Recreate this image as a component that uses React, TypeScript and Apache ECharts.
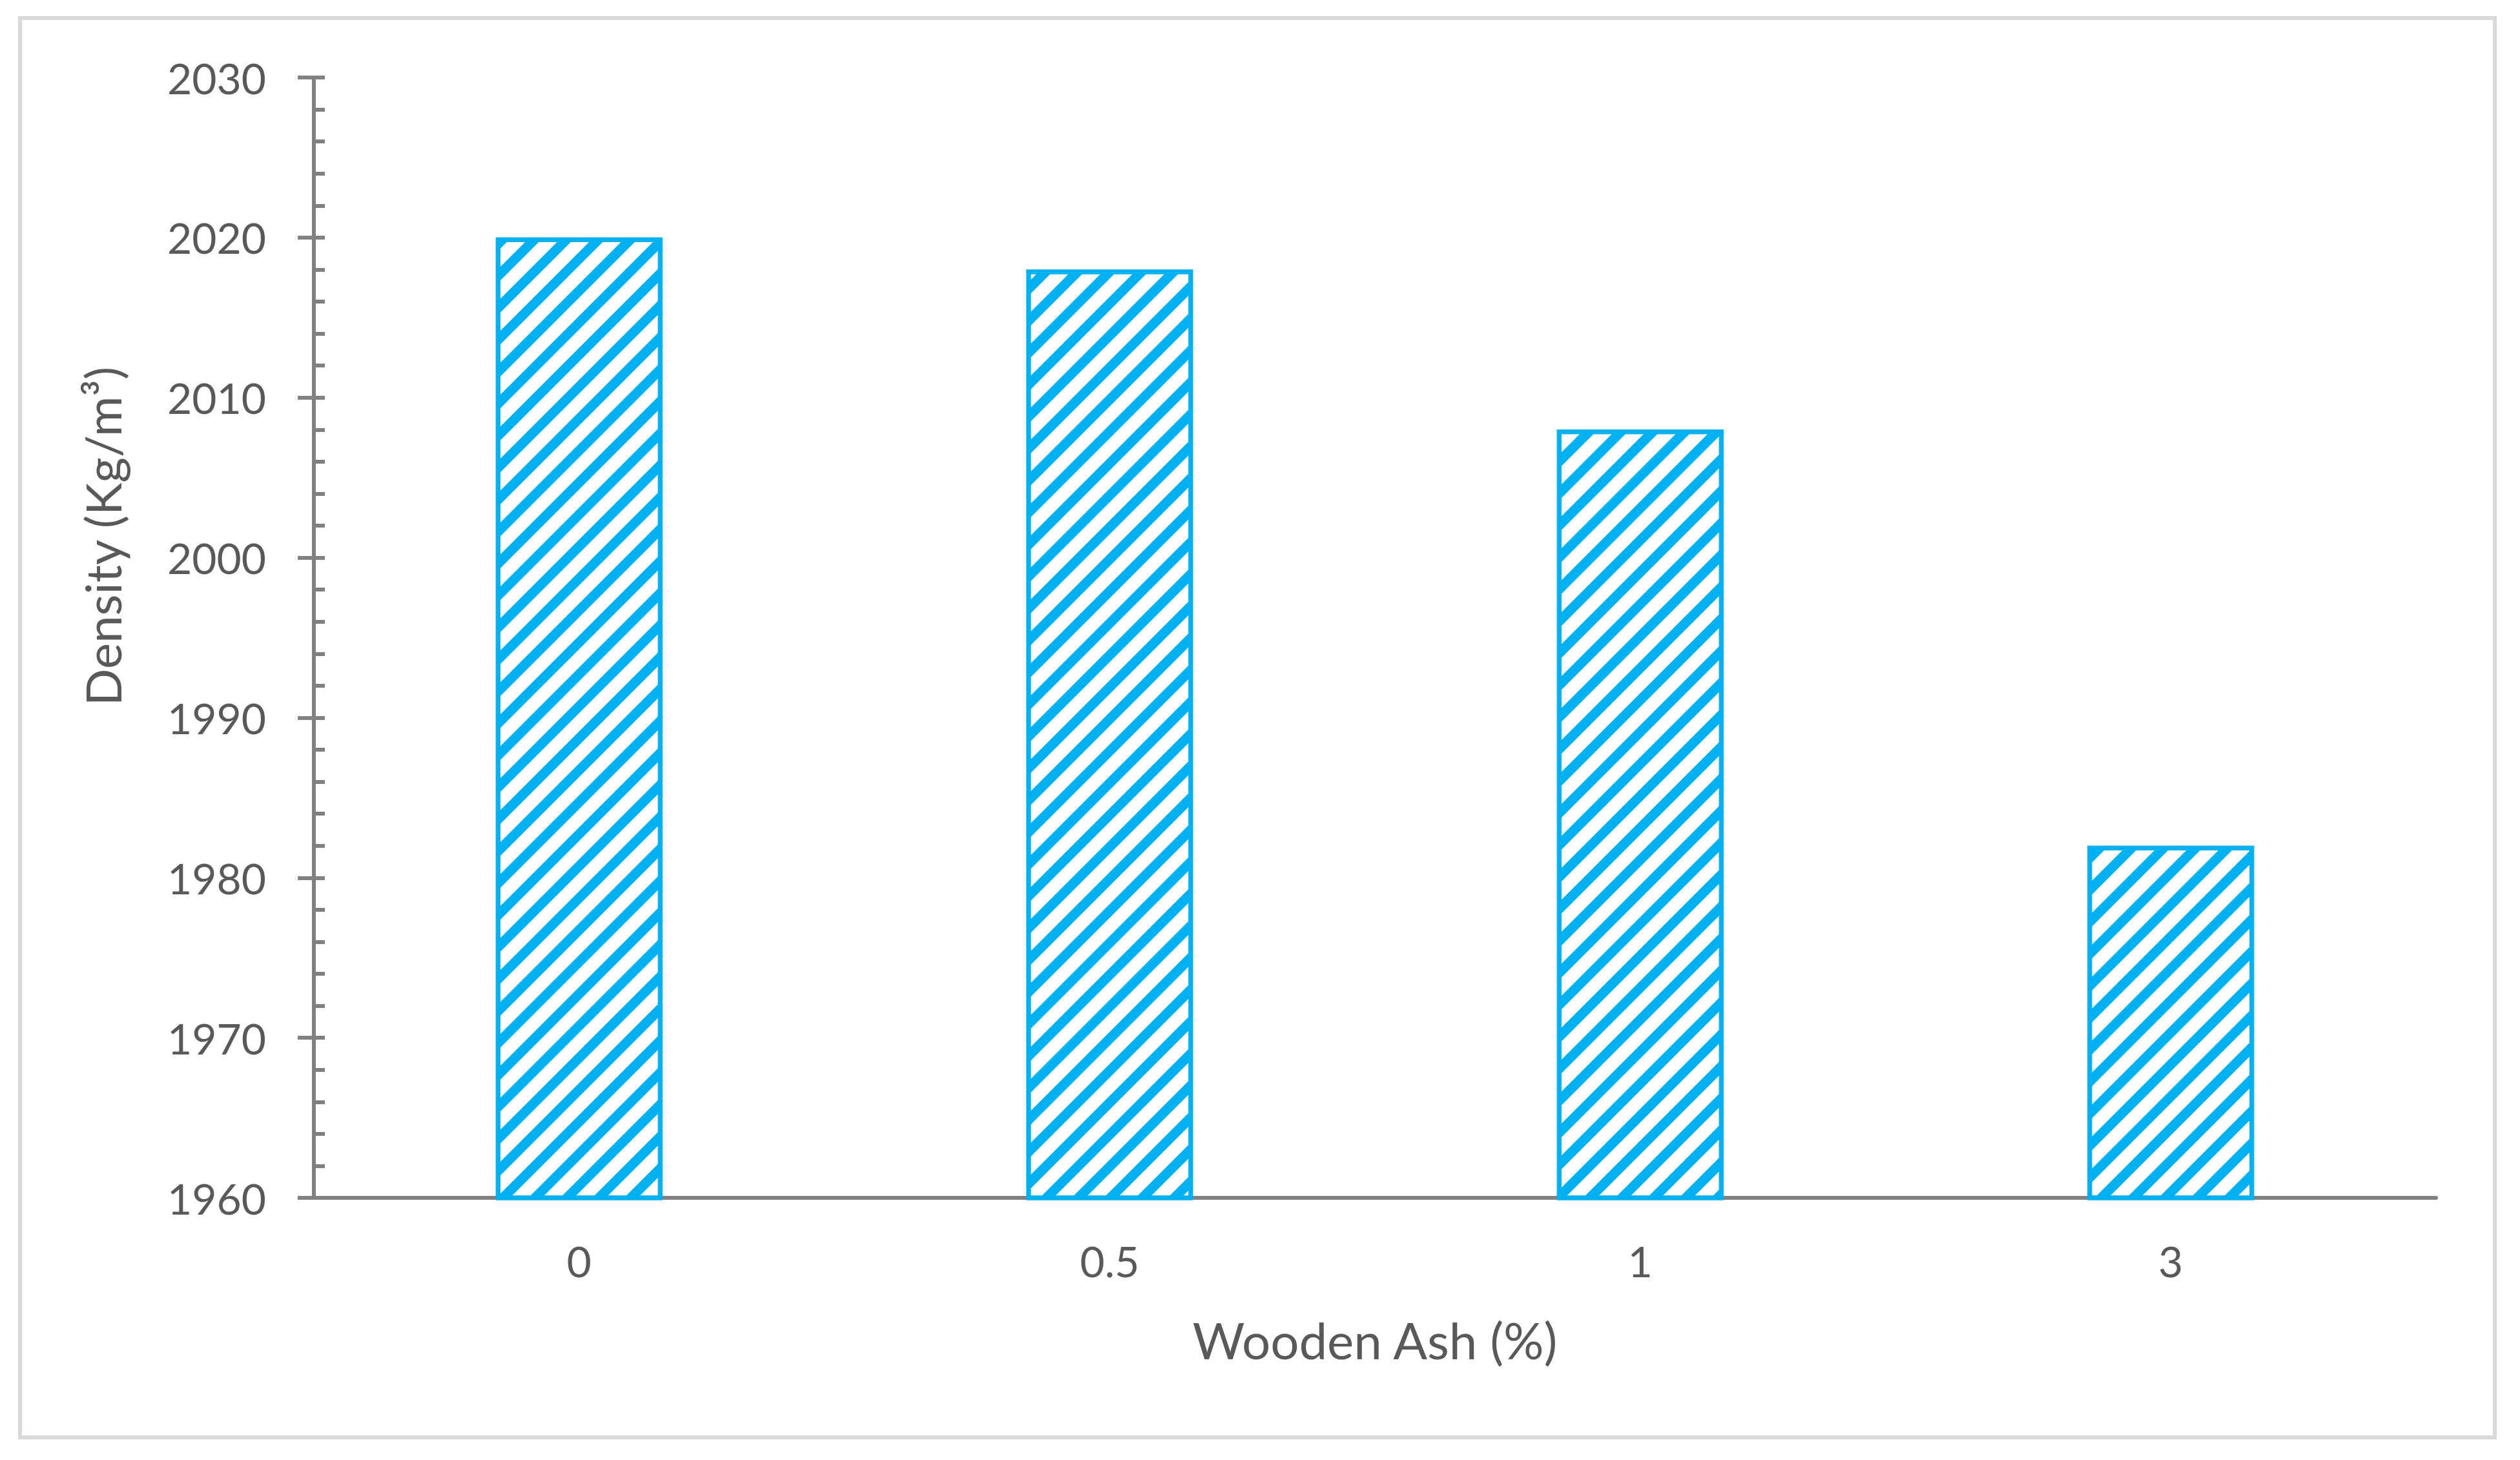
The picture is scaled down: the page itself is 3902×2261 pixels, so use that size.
import React, { useEffect, useRef } from 'react';
import * as echarts from 'echarts';

const categories: string[] = ['0', '0.5', '1', '3'];
const densityValues: number[] = [2020, 2018, 2008, 1982];
const yRange: number[] = [1960, 2030];
const yStep = 10;
const xTitle = 'Wooden Ash (%)';
const yTitle = 'Density (Kg/m³)';

const BLUE = '#00b0f0';
const AXIS = '#808080';
const TEXT = '#595959';
const FONT = 'Lato';

export default function App() {
  const ref = useRef<HTMLDivElement>(null);
  useEffect(() => {
    if (!ref.current) return;
    const chart = echarts.init(ref.current, undefined, { renderer: 'svg' });
    chart.setOption({
      animation: false,
      backgroundColor: '#ffffff',
      grid: { left: 486, right: 130, top: 120, bottom: 406, containLabel: false },
      graphic: [
        {
          type: 'rect',
          shape: { x: 31, y: 28, width: 3832, height: 2198 },
          style: { fill: 'none', stroke: '#d9d9d9', lineWidth: 6 },
          silent: true,
          z: -10,
        },
      ],
      xAxis: {
        type: 'category',
        data: categories,
        name: xTitle,
        nameLocation: 'middle',
        nameGap: 181,
        nameTextStyle: { fontFamily: FONT, fontSize: 78, color: TEXT },
        axisLine: { show: true, lineStyle: { color: AXIS, width: 6 } },
        axisTick: { show: false },
        axisLabel: { fontFamily: FONT, fontSize: 66, color: TEXT, margin: 64 },
        splitLine: { show: false },
      },
      yAxis: [
        {
          type: 'value',
          min: yRange[0],
          max: yRange[1],
          interval: yStep,
          name: yTitle,
          nameLocation: 'middle',
          nameGap: 290,
          nameRotate: 90,
          nameTextStyle: { fontFamily: FONT, fontSize: 76, color: TEXT, padding: [0, 0, 0, 314] },
          axisLine: { show: true, lineStyle: { color: AXIS, width: 6 } },
          axisTick: { show: true, inside: true, length: 17, lineStyle: { color: AXIS, width: 6 } },
          minorTick: { show: true, splitNumber: 5, length: 17, lineStyle: { color: AXIS, width: 6 } },
          axisLabel: {
            fontFamily: FONT,
            fontSize: 66,
            color: TEXT,
            margin: 74,
            formatter: (v: number) => String(v),
          },
          splitLine: { show: false },
        },
        {
          type: 'value',
          position: 'left',
          min: yRange[0],
          max: yRange[1],
          interval: yStep,
          axisLine: { show: false },
          axisTick: { show: true, inside: false, length: 25, lineStyle: { color: AXIS, width: 6 } },
          axisLabel: { show: false },
          splitLine: { show: false },
        },
      ],
      series: [
        {
          type: 'bar',
          data: densityValues,
          barWidth: 258,
          itemStyle: {
            color: '#ffffff',
            borderColor: BLUE,
            borderWidth: 7,
            decal: {
              symbol: 'rect',
              symbolSize: 1,
              color: BLUE,
              backgroundColor: '#ffffff',
              dashArrayX: [1, 0],
              dashArrayY: [15, 20],
              rotation: -Math.PI / 4,
            },
          },
        },
      ],
    });
    return () => chart.dispose();
  }, []);
  return (
    <div
      ref={ref}
      style={{ position: 'fixed', left: 0, top: 0, width: 3902, height: 2261, background: '#fff' }}
    />
  );
}
